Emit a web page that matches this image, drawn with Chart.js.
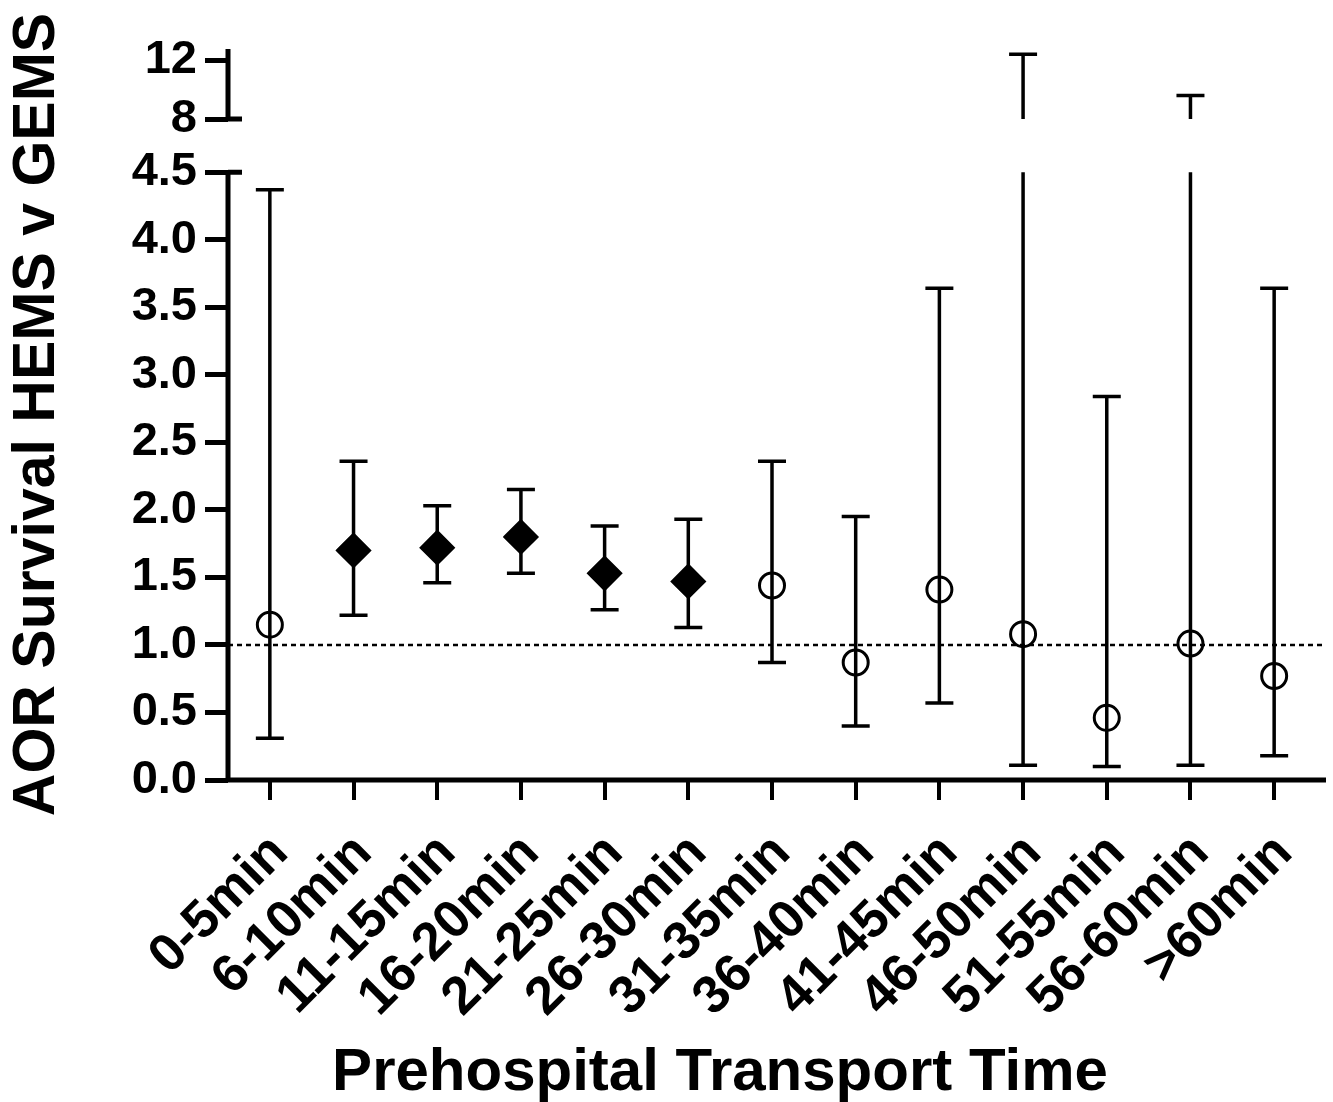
<!DOCTYPE html>
<html>
<head>
<meta charset="utf-8">
<script src="https://cdn.jsdelivr.net/npm/chart.js@4"></script>
<style>
  html, body { margin: 0; padding: 0; background: #fff; }
  #wrap { width: 1333px; height: 1102px; }
</style>
</head>
<body>
<div id="wrap"><canvas id="aorChart"></canvas></div>
<script>
// x axis categories
const categories = ["0-5min", "6-10min", "11-15min", "16-20min", "21-25min", "26-30min", "31-35min",
                    "36-40min", "41-45min", "46-50min", "51-55min", "56-60min", ">60min"];

// adjusted odds ratio + 95% CI
const aor    = [1.15, 1.70, 1.72, 1.80, 1.53, 1.47, 1.44, 0.87, 1.41, 1.08, 0.46, 1.01, 0.77];
const ciLow  = [0.31, 1.22, 1.46, 1.53, 1.26, 1.13, 0.87, 0.40, 0.57, 0.11, 0.10, 0.11, 0.18];
const ciHigh = [4.37, 2.36, 2.03, 2.15, 1.88, 1.93, 2.36, 1.95, 3.64, 12.4, 2.84, 9.6, 3.64];

// filled diamond = significant, open circle = not
const significant = [false, true, true, true, true, true, false, false, false, false, false, false, false];

// y tick values and their labels (broken axis)
const yTickValues = [0, 0.5, 1, 1.5, 2, 2.5, 3, 3.5, 4, 4.5, 8, 12];
const yTickLabels = ["0.0", "0.5", "1.0", "1.5", "2.0", "2.5", "3.0", "3.5", "4.0", "4.5", "8", "12"];

// axis break: lower part 0-4.5, gap, then a squashed 8-12.75 part
const breakLow = 4.5;
const breakHigh = 8;
const gapSize = 0.393;
const upperSquash = 0.1093;
const axisTop = 12.75;

// maps a real value onto the single linear axis
function toAxis(v) {
    if (v <= breakLow) return v;
    return breakLow + gapSize + (v - breakHigh) * upperSquash;
}

const FONT = "'Liberation Sans', Arial, sans-serif";

// draws error bars, the dotted line at 1, the broken y axis and the x axis line
const brokenAxisPlugin = {
    id: "brokenAxis",
    beforeDatasetsDraw(chart) {
        const ctx = chart.ctx;
        const xs = chart.scales.x;
        const ys = chart.scales.y;
        const area = chart.chartArea;

        // dotted reference line at AOR = 1
        ctx.save();
        ctx.strokeStyle = "#000";
        ctx.lineWidth = 2.5;
        ctx.setLineDash([5, 4]);
        ctx.beginPath();
        ctx.moveTo(area.left, ys.getPixelForValue(1));
        ctx.lineTo(area.right + 10, ys.getPixelForValue(1));
        ctx.stroke();
        ctx.restore();

        // error bars
        ctx.save();
        ctx.strokeStyle = "#000";
        ctx.lineWidth = 3.5;
        const capW = 14;
        for (let i = 0; i < categories.length; i++) {
            const x = xs.getPixelForValue(i);
            const yLo = ys.getPixelForValue(toAxis(ciLow[i]));
            const yHi = ys.getPixelForValue(toAxis(ciHigh[i]));
            ctx.beginPath();
            if (ciHigh[i] > breakLow) {
                // split the whisker across the break
                ctx.moveTo(x, yLo);
                ctx.lineTo(x, ys.getPixelForValue(toAxis(breakLow)));
                ctx.moveTo(x, ys.getPixelForValue(toAxis(breakHigh)));
                ctx.lineTo(x, yHi);
            } else {
                ctx.moveTo(x, yLo);
                ctx.lineTo(x, yHi);
            }
            ctx.moveTo(x - capW, yLo);
            ctx.lineTo(x + capW, yLo);
            ctx.moveTo(x - capW, yHi);
            ctx.lineTo(x + capW, yHi);
            ctx.stroke();
        }
        ctx.restore();
    },
    afterDraw(chart) {
        const ctx = chart.ctx;
        const ys = chart.scales.y;
        const area = chart.chartArea;
        const yBreakLo = ys.getPixelForValue(toAxis(breakLow));
        const yBreakHi = ys.getPixelForValue(toAxis(breakHigh));

        ctx.save();
        ctx.strokeStyle = "#000";
        ctx.lineWidth = 5;
        ctx.beginPath();
        // y axis, two pieces
        ctx.moveTo(area.left, area.bottom);
        ctx.lineTo(area.left, yBreakLo);
        ctx.moveTo(area.left, yBreakHi);
        ctx.lineTo(area.left, area.top);
        // little caps on the break ends (right side)
        ctx.moveTo(area.left, yBreakLo);
        ctx.lineTo(area.left + 14, yBreakLo);
        ctx.moveTo(area.left, yBreakHi);
        ctx.lineTo(area.left + 14, yBreakHi);
        // x axis
        ctx.moveTo(area.left - 2, area.bottom);
        ctx.lineTo(area.right + 10, area.bottom);
        ctx.stroke();

        // x axis title, centred under the plot like the original
        ctx.fillStyle = "#000";
        ctx.font = "bold 60px " + FONT;
        ctx.textAlign = "center";
        ctx.textBaseline = "alphabetic";
        ctx.fillText("Prehospital Transport Time", 720, 1090);
        ctx.restore();
    }
};

const aorChart = new Chart("aorChart", {
    type: "line",
    data: {
        labels: categories,
        datasets: [{
            data: aor.map(toAxis),
            showLine: false,
            pointStyle: ctx => significant[ctx.dataIndex] ? "rectRot" : "circle",
            pointRadius: ctx => significant[ctx.dataIndex] ? 16 : 12.5,
            pointBackgroundColor: ctx => significant[ctx.dataIndex] ? "#000" : "rgba(0,0,0,0)",
            pointBorderColor: "#000",
            pointBorderWidth: 3
        }]
    },
    options: {
        responsive: true,
        maintainAspectRatio: false,
        animation: false,
        layout: { padding: { top: 49, right: 17, bottom: 0, left: 0 } },
        plugins: {
            legend: { display: false },
            tooltip: { enabled: false }
        },
        scales: {
            x: {
                type: "category",
                offset: true,
                border: { display: false },
                grid: {
                    offset: false,
                    drawOnChartArea: false,
                    tickLength: 20,
                    lineWidth: 4,
                    color: "#000"
                },
                ticks: {
                    autoSkip: false,
                    minRotation: 45,
                    maxRotation: 45,
                    padding: 22,
                    labelOffset: 10,
                    color: "#000",
                    font: { family: FONT, size: 53, weight: "bold" }
                },
                afterFit(scale) {
                    scale.height = 322;
                    // rotated labels ask for extra room on the right; the original has none
                    scale.paddingRight = 0;
                }
            },
            y: {
                min: 0,
                max: toAxis(axisTop),
                border: { display: false },
                grid: {
                    drawOnChartArea: false,
                    tickLength: 23,
                    lineWidth: 5,
                    color: "#000"
                },
                afterBuildTicks(scale) {
                    scale.ticks = yTickValues.map(v => ({ value: toAxis(v) }));
                },
                ticks: {
                    autoSkip: false,
                    padding: 8,
                    color: "#000",
                    font: { family: FONT, size: 47, weight: "bold" },
                    callback: (value, index) => yTickLabels[index]
                },
                title: {
                    display: true,
                    text: "AOR Survival HEMS v GEMS",
                    color: "#000",
                    font: { family: FONT, size: 59, weight: "bold" },
                    padding: { top: 2, bottom: 0 }
                },
                afterFit(scale) { scale.width = 228; }
            }
        }
    },
    plugins: [brokenAxisPlugin]
});
</script>
</body>
</html>
